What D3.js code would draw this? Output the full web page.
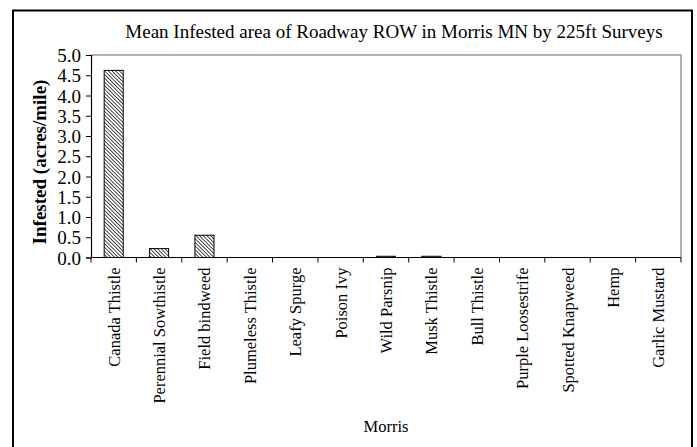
<!DOCTYPE html>
<html><head><meta charset="utf-8">
<script src="https://cdn.jsdelivr.net/npm/d3@7"></script>
<style>body{margin:0;background:#fff}svg{display:block}svg text{font-family:"Times New Roman","Liberation Serif",Tinos,"DejaVu Serif",serif !important;fill:#000}</style>
</head><body><svg id="c" width="697" height="447"></svg>
<script>
const categories = ["Canada Thistle","Perennial Sowthistle","Field bindweed","Plumeless Thistle","Leafy Spurge","Poison Ivy","Wild Parsnip","Musk Thistle","Bull Thistle","Purple Loosestrife","Spotted Knapweed","Hemp","Garlic Mustard"];
const values = [4.62, 0.22, 0.55, 0, 0, 0, 0.03, 0.03, 0, 0, 0, 0, 0];
const yTicks = [0,0.5,1,1.5,2,2.5,3,3.5,4,4.5,5];
const title = "Mean Infested area of Roadway ROW in Morris MN by 225ft Surveys";
const yTitle = "Infested (acres/mile)";
const xTitle = "Morris";

const svg = d3.select("#c");
const L = 91, R = 681, T = 55, B = 257.5;
svg.append("rect").attr("x",13).attr("y",10.5).attr("width",679).attr("height",440).attr("fill","none").attr("stroke","#000").attr("stroke-width",2);

const defs = svg.append("defs");
const pat = defs.append("pattern").attr("id","hatch").attr("patternUnits","userSpaceOnUse").attr("width",2.6).attr("height",2.6).attr("patternTransform","rotate(-45)");
pat.append("rect").attr("width",2.6).attr("height",2.6).attr("fill","#fff");
pat.append("line").attr("x1",0).attr("y1",0).attr("x2",0).attr("y2",2.6).attr("stroke","#000").attr("stroke-width",1.4);

const x = d3.scaleBand().domain(categories).range([L,R]).paddingInner(0.58).paddingOuter(0.29);
const y = d3.scaleLinear().domain([0,5]).range([B,T]);

svg.append("path").attr("d",`M${L},${T}H${R}V${B}`).attr("fill","none").attr("stroke","#999").attr("stroke-width",1.5);

svg.append("g").selectAll("rect").data(categories).join("rect")
  .attr("x",d=>x(d)).attr("width",x.bandwidth())
  .attr("y",(d,i)=>y(values[i])).attr("height",(d,i)=>B-y(values[i]))
  .attr("fill","url(#hatch)").attr("stroke","#000").attr("stroke-width",1);

const ya = svg.append("g").attr("transform",`translate(${L},0)`)
  .call(d3.axisLeft(y).tickValues(yTicks).tickFormat(d3.format(".1f")).tickSize(5).tickPadding(5));
ya.attr("font-family",null).attr("font-size",null);
ya.select(".domain").attr("stroke","#000").attr("stroke-width",1.2);
ya.selectAll("text").style("font-size","19px").attr("dy","0.35em");

const band = (R-L)/categories.length;
const xa = svg.append("g").attr("transform",`translate(0,${B})`);
xa.append("line").attr("x1",L).attr("x2",R).attr("stroke","#000").attr("stroke-width",1.2);
xa.selectAll("line.t").data(d3.range(categories.length+1)).join("line").attr("class","t")
  .attr("x1",i=>L+i*band).attr("x2",i=>L+i*band).attr("y1",0).attr("y2",5).attr("stroke","#000");
xa.selectAll("text").data(categories).join("text")
  .attr("transform",d=>`translate(${x(d)+x.bandwidth()/2+6},10) rotate(-90)`)
  .attr("text-anchor","end").style("font-size","16.5px").text(d=>d);

svg.append("text").attr("x",394).attr("y",37.5).attr("text-anchor","middle").style("font-size","19px").text(title);
svg.append("text").attr("transform","translate(46,162) rotate(-90)").attr("text-anchor","middle").style("font-size","19px").style("font-weight","bold").text(yTitle);
svg.append("text").attr("x",386).attr("y",432).attr("text-anchor","middle").style("font-size","16.5px").text(xTitle);
</script></body></html>
